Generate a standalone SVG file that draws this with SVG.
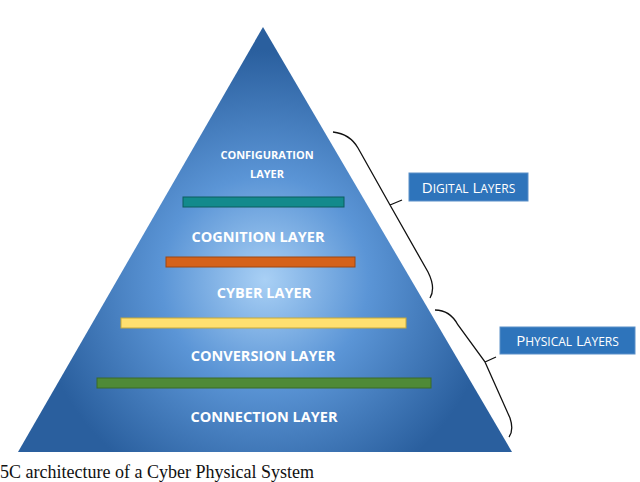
<svg xmlns="http://www.w3.org/2000/svg" width="640" height="482" viewBox="0 0 640 482">
<defs>
<radialGradient id="g" cx="265" cy="280" r="230" gradientUnits="userSpaceOnUse">
<stop offset="0" stop-color="#a9d0f5"/>
<stop offset="0.45" stop-color="#5b95d6"/>
<stop offset="1" stop-color="#2a5f9e"/>
</radialGradient>
<style>
.lt{fill:#fff;font-family:"Open Sans","Liberation Sans",sans-serif;font-weight:bold;text-anchor:middle}
.bx{fill:#2e74bb;stroke:#5a8fc8;stroke-width:1}
.bt{fill:#fff;font-family:"Open Sans","Liberation Sans",sans-serif;text-anchor:middle}
.br{fill:none;stroke:#111;stroke-width:1.3}
.bar{stroke-width:1}
</style>
</defs>
<rect width="640" height="482" fill="#fff"/>
<g id="pyramid">
<polygon points="263,27 512,452 18,452" fill="url(#g)"/>
</g>
<g id="bars">
<rect class="bar" x="183" y="197" width="161" height="10" fill="#138a8c" stroke="#0c5d5e"/>
<rect class="bar" x="166" y="257" width="189" height="10" fill="#d5621a" stroke="#9c4612"/>
<rect class="bar" x="121" y="318" width="285" height="10" fill="#ffe070" stroke="#c6a93a"/>
<rect class="bar" x="97" y="378" width="334" height="10" fill="#4f8a37" stroke="#3a6a28"/>
</g>
<g id="layer-configuration"><text class="lt" x="267" y="159" font-size="11">CONFIGURATION</text><text class="lt" x="267" y="178" font-size="11">LAYER</text></g>
<g id="layer-cognition"><text class="lt" x="258" y="242" font-size="14.5">COGNITION LAYER</text></g>
<g id="layer-cyber"><text class="lt" x="264" y="298" font-size="14.5">CYBER LAYER</text></g>
<g id="layer-conversion"><text class="lt" x="263" y="361" font-size="14.5">CONVERSION LAYER</text></g>
<g id="layer-connection"><text class="lt" x="264" y="422" font-size="14.5">CONNECTION LAYER</text></g>
<g id="connectors">
<path class="br" d="M333,132 Q350,134 358,148 L390,205 L402,200 M390,205 L428,272 Q436,288 430,298"/>
<path class="br" d="M435,310 Q450,310 458,325 L485,362 L496,357 M485,362 L510,418 Q514,430 509,437"/>
</g>
<g id="digital">
<rect class="bx" x="409" y="173" width="119" height="28"/>
<text class="bt" x="468.5" y="193" font-size="15">D<tspan font-size="12">IGITAL</tspan> L<tspan font-size="12">AYERS</tspan></text>
</g>
<g id="physical">
<rect class="bx" x="500" y="327" width="135" height="27"/>
<text class="bt" x="567.5" y="346" font-size="15">P<tspan font-size="12">HYSICAL</tspan> L<tspan font-size="12">AYERS</tspan></text>
</g>
<text x="0" y="478" font-family="Liberation Serif,serif" font-size="18" fill="#111">5C architecture of a Cyber Physical System</text>
</svg>
